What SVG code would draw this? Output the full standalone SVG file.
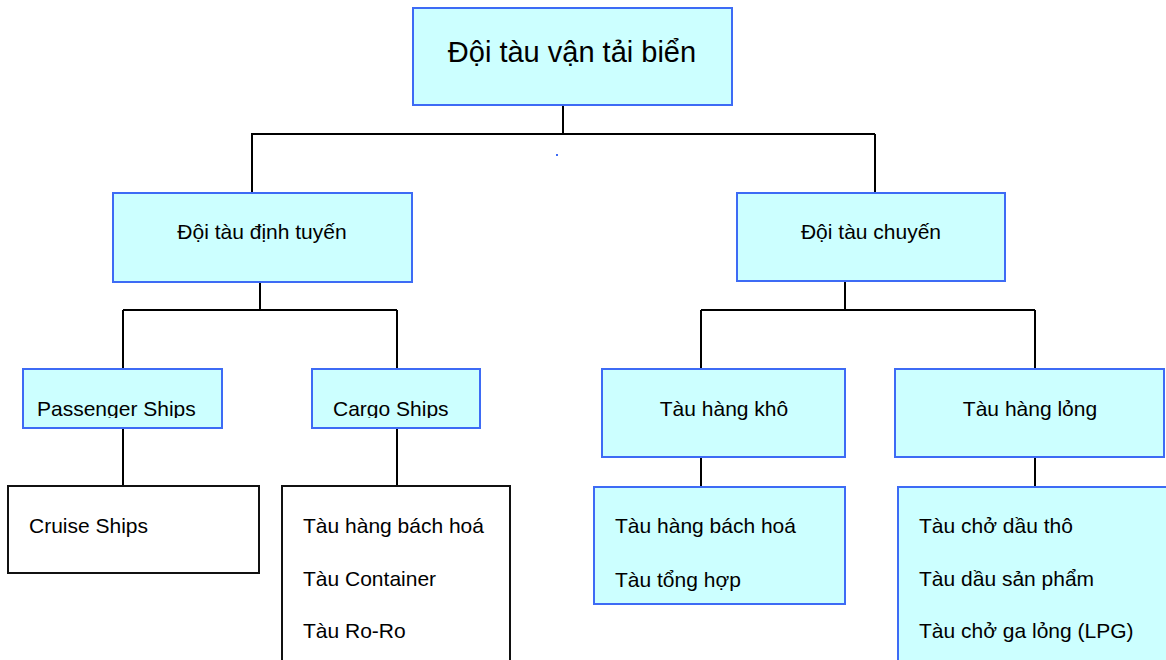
<svg xmlns="http://www.w3.org/2000/svg" width="1166" height="660" viewBox="0 0 1166 660">
<style>
.box{fill:#CCFFFF;stroke:#3D6BF5;stroke-width:2}
.wbox{fill:#FFFFFF;stroke:#111111;stroke-width:2}
.t{font-family:"Liberation Sans",Arial,sans-serif;font-size:21px;fill:#000}
.big{font-size:29px}
.c{text-anchor:middle}
.conn{stroke:#000;stroke-width:2;fill:none}
</style>
<defs>
<clipPath id="clipP"><rect x="23" y="369" width="199" height="49"/></clipPath>
<clipPath id="clipC"><rect x="312" y="369" width="168" height="49"/></clipPath>
</defs>
<rect width="1166" height="660" fill="#FFFFFF"/>
<g id="connectors">
<path class="conn" d="M563,105V134M251,134H875M252,134V193M875,134V193"/>
<path class="conn" d="M260,282V310M123,310H397M123,310V369M397,310V369"/>
<path class="conn" d="M845,281V310M701,310H1035M701,310V369M1035,310V369"/>
<path class="conn" d="M123,428V486M397,428V486M701,457V487M1035,457V487"/>
</g>
<rect x="556" y="154" width="2" height="2" fill="#3D6BF5"/>
<g id="root">
<rect class="box" x="413" y="8" width="319" height="97"/>
<text class="t big c" x="572" y="62">Đội tàu vận tải biển</text>
</g>
<g id="dinhtuyen">
<rect class="box" x="113" y="193" width="299" height="89"/>
<text class="t c" x="262" y="239">Đội tàu định tuyến</text>
</g>
<g id="chuyen">
<rect class="box" x="737" y="193" width="268" height="88"/>
<text class="t c" x="871" y="239">Đội tàu chuyến</text>
</g>
<g id="passenger">
<rect class="box" x="23" y="369" width="199" height="59"/>
<text class="t" x="37" y="416" clip-path="url(#clipP)">Passenger Ships</text>
</g>
<g id="cargo">
<rect class="box" x="312" y="369" width="168" height="59"/>
<text class="t" x="333" y="416" clip-path="url(#clipC)">Cargo Ships</text>
</g>
<g id="cruise">
<rect class="wbox" x="8" y="486" width="251" height="87"/>
<text class="t" x="29" y="533">Cruise Ships</text>
</g>
<g id="cargolist">
<rect class="wbox" x="282" y="486" width="228" height="200"/>
<text class="t" x="303" y="533">Tàu hàng bách hoá</text>
<text class="t" x="303" y="586">Tàu Container</text>
<text class="t" x="303" y="638">Tàu Ro-Ro</text>
</g>
<g id="kho">
<rect class="box" x="602" y="369" width="243" height="88"/>
<text class="t c" x="724" y="416">Tàu hàng khô</text>
</g>
<g id="kholist">
<rect class="box" x="594" y="487" width="251" height="117"/>
<text class="t" x="615" y="533">Tàu hàng bách hoá</text>
<text class="t" x="615" y="587">Tàu tổng hợp</text>
</g>
<g id="long">
<rect class="box" x="895" y="369" width="269" height="88"/>
<text class="t c" x="1030" y="416">Tàu hàng lỏng</text>
</g>
<g id="longlist">
<rect class="box" x="898" y="487" width="290" height="200"/>
<text class="t" x="919" y="533">Tàu chở dầu thô</text>
<text class="t" x="919" y="586">Tàu dầu sản phẩm</text>
<text class="t" x="919" y="638">Tàu chở ga lỏng (LPG)</text>
</g>
</svg>
